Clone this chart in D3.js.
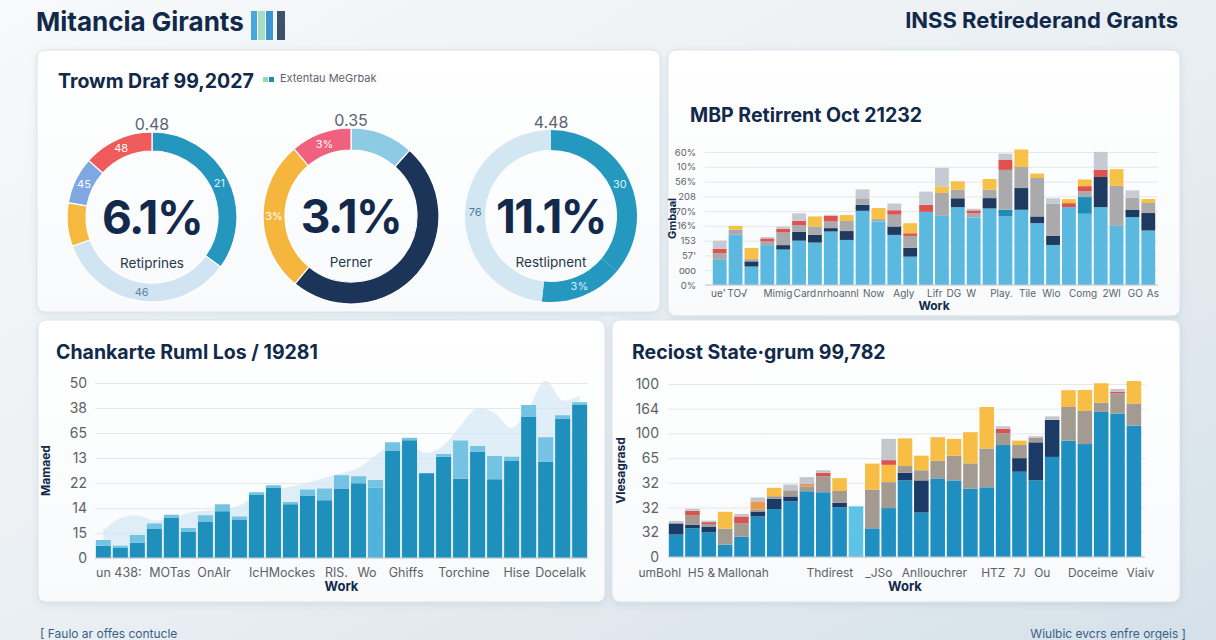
<!DOCTYPE html>
<html>
<head>
<meta charset="utf-8">
<script src="https://cdn.jsdelivr.net/npm/d3@7"></script>
<style>
  html, body { margin: 0; padding: 0; }
  body { width: 1216px; height: 640px; overflow: hidden; }
  svg text { font-family: "Inter", "Noto Sans", sans-serif; }
</style>
</head>
<body>
<script>
// ---------- data ----------

// donut panel
var donutTopLabels = ["0.48", "0.35", "4.48"];
var donutCenterText = ["6.1%", "3.1%", "11.1%"];
var donutSubText = ["Retiprines", "Perner", "Restlipnent"];
var donut1Values = [35, 34.4, 8.3, 8.9, 13.4];
var donut1Labels = ["21", "46", "", "45", "48"];
var donut2Values = [11.6, 49.4, 27.8, 11.2];
var donut2Labels = ["", "", "3%", "3%"];
var donut3Values = [36.1, 15.6, 48.3];
var donut3Labels = ["30", "3%", "76"];

// top-right stacked bars
var mbpTicks = ["0%", "ooo", "57'", "153", "16%", "70%", "208", "56%", "10%", "60%"];
var mbpKeys = ["base", "teal", "navy", "gray", "red", "yellow", "lgray"];
var mbpBase   = [1.7, 3.4, 1.25, 2.7, 2.4, 3.0, 2.87, 3.62, 3.05, 5.02, 4.3, 3.39, 1.92, 4.95, 4.68, 5.27, 4.57, 5.18, 4.64, 5.09, 4.19, 2.71, 5.27, 4.82, 5.27, 4.0, 4.6, 3.69];
var mbpTeal   = [0, 0, 0, 0, 0, 0, 0, 0, 0, 0, 0, 0, 0, 0, 0, 0, 0, 0, 0.45, 0, 0, 0, 0, 1.13, 0, 0, 0, 0];
var mbpNavy   = [0, 0, 0.35, 0, 0.3, 0.6, 0.52, 0.23, 0.6, 0.4, 0, 0.57, 0.6, 0, 0, 0.6, 0, 0.7, 0, 1.47, 0.45, 0.63, 0, 0, 2.04, 0, 0.5, 1.18];
var mbpGray   = [0.45, 0.35, 0.15, 0.25, 0.85, 0.45, 0.57, 0.45, 0.68, 0.45, 0.16, 0.8, 0.8, 0, 1.55, 0.57, 0.3, 0.57, 2.7, 1.43, 2.6, 2.15, 0, 0.4, 0, 2.71, 0.8, 0.68];
var mbpRed    = [0.3, 0, 0, 0.2, 0.25, 0.3, 0, 0.38, 0, 0, 0, 0.3, 0.18, 0.47, 0, 0, 0.18, 0, 0.7, 0, 0, 0, 0.27, 0.34, 0.5, 0, 0, 0];
var mbpYellow = [0, 0.25, 0.75, 0, 0, 0, 0.68, 0, 0.4, 0, 0.75, 0, 0.68, 0, 0.45, 0.57, 0, 0.72, 0, 1.18, 0.3, 0, 0.27, 0.45, 0, 1.13, 0, 0.27];
var mbpLgray  = [0.55, 0, 0, 0.1, 0.15, 0.5, 0, 0.07, 0, 0.6, 0, 0.45, 0, 0.9, 1.25, 0, 0.11, 0, 0.4, 0, 0, 0.38, 0, 0, 1.2, 0, 0.5, 0];
var mbpXLabels = ["ue'", "TO\u221a", "Mimig", "Card", "nrhoannl", "Now", "Agly", "Lifr", "DG", "W", "Play.", "Tile", "Wio", "Comg", "2Wl", "GO", "As"];
var mbpXPos    = [-0.1, 1.1, 3.66, 5.36, 7.44, 9.7, 11.6, 13.55, 14.75, 15.85, 17.75, 19.4, 20.9, 22.9, 24.7, 26.2, 27.3];

// bottom-left bars + area
var chkTicks = ["0", "15", "14", "22", "13", "65", "38", "50"];
var chkKeys = ["base", "mid", "top"];
var chkBase = [4.9, 4.0, 6.1, 11.6, 16.2, 10.6, 14.6, 18.7, 15.4, 25.2, 28.0, 21.5, 24.8, 23.1, 27.8, 29.9, 0, 42.8, 47.1, 33.9, 40.5, 31.7, 42.5, 31.5, 38.8, 56.4, 38.5, 55.6, 61.2];
var chkMid  = [0, 0, 0, 0, 0, 0, 0, 0, 0, 0, 0, 0, 0, 0, 0, 0, 28.2, 0, 0, 0, 0, 0, 0, 0, 0, 0, 0, 0, 0];
var chkTop  = [2.3, 0.9, 3.1, 2.2, 1.1, 1.4, 2.5, 2.8, 1.2, 1.1, 1.1, 0.9, 2.6, 4.7, 5.3, 2.8, 3.0, 3.5, 1.0, 0, 1.1, 15.3, 2.3, 9.3, 1.7, 4.8, 9.8, 1.5, 1.1];
var chkArea = [11, 16, 17, 15, 16, 18, 19, 19.5, 21, 25, 27, 28.5, 30, 32, 34, 36, 41, 45, 45, 42, 45, 53, 60, 58, 52, 60, 71, 63, 65];
var chkXLabels = ["un 438:", "MOTas", "OnAlr", "IcHMockes", "RIS.", "Wo", "Ghiffs", "Torchine", "Hise", "Docelalk"];
var chkXPos    = [0.9, 3.9, 6.5, 10.5, 13.7, 15.5, 17.8, 21.2, 24.3, 26.9];

// bottom-right stacked bars
var recTicks = ["0", "32", "32", "32", "65", "100", "164", "100"];
var recKeys = ["base", "light", "navy", "taupe", "orange", "yellow", "red", "lgray"];
var recBase   = [9.1, 11.6, 10.0, 5.0, 8.2, 16.4, 19.4, 22.5, 26.6, 26.2, 20.1, 0, 11.6, 19.8, 31.0, 18.0, 31.8, 31.0, 27.7, 28.2, 45.3, 34.5, 31.0, 40.5, 47.1, 45.7, 58.7, 58.0, 53.2];
var recLight  = [0, 0, 0, 0, 0, 0, 0, 0, 0, 0, 0, 20.5, 0, 0, 0, 0, 0, 0, 0, 0, 0, 0, 0, 0, 0, 0, 0, 0, 0];
var recNavy   = [4.5, 1.4, 2.3, 0, 0, 2.0, 4.2, 2.0, 0, 0, 1.8, 0, 0, 0, 3.1, 13.0, 0, 0, 0, 0, 0, 5.5, 15.4, 15.0, 0, 0, 0, 0, 0];
var recTaupe  = [0, 3.8, 1.0, 6.5, 5.5, 0.7, 1.0, 2.5, 2.0, 6.5, 4.8, 0, 15.7, 10.5, 2.7, 4.1, 7.1, 10.0, 10.2, 15.7, 4.8, 5.3, 1.8, 0, 13.6, 13.4, 3.7, 8.2, 8.9];
var recOrange = [0, 0, 0, 0, 0, 3.4, 0, 0, 1.0, 0, 0, 0, 0, 0, 0, 0, 0, 0, 0, 0, 0, 0, 0, 0, 0, 0, 0, 0, 0];
var recYellow = [0, 0, 0, 6.8, 0, 0, 3.4, 0, 0, 0, 5.2, 0, 10.5, 7.0, 11.2, 5.9, 9.6, 6.8, 12.6, 16.8, 0, 1.8, 0, 0, 6.8, 8.5, 7.9, 0, 9.1];
var recRed    = [0, 1.9, 0.8, 0, 2.7, 0, 0, 0, 0, 1.4, 0, 0, 0, 1.9, 0, 0, 0, 0, 0, 0, 1.8, 0, 0, 0, 0, 0, 0, 0.7, 0];
var recLgray  = [1.0, 0.8, 0.6, 0, 1.0, 1.6, 0, 2.3, 2.7, 1.0, 0, 0, 0, 8.6, 0, 0, 0, 0, 0, 0, 1.0, 0, 0.7, 1.4, 0, 0, 0, 1.1, 0];
var recXLabels = ["umBohl", "H5 &", "Mallonah", "Thdirest", "_JSo", "Anllouchrer", "HTZ", "7J", "Ou", "Doceime", "Viaiv"];
var recXPos    = [-1.0, 1.55, 4.1, 9.4, 12.4, 15.8, 19.4, 21.0, 22.4, 25.5, 28.4];

// ---------- styles ----------
var navyText = "#11294a";
var donut1Colors = ["#2597bf", "#d0e5f1", "#f6b83e", "#7fa7e2", "#ee5b5a"];
var donut1TextColors = ["#d9f1fb", "#5a86a6", "#fff", "#fff", "#fff"];
var donut2Colors = ["#8dcae3", "#1b3457", "#f6b63d", "#f0617f"];
var donut2TextColors = ["#fff", "#fff", "#fff", "#fff"];
var donut3Colors = ["#2598c0", "#2598c0", "#d3e7f2"];
var donut3TextColors = ["#d9f1fb", "#d9f1fb", "#4d7c9c"];
var mbpColors = ["#5bb8de", "#1d8cb8", "#1e3a5f", "#aaaaac", "#e0524f", "#f7c046", "#c6cad2"];
var chkColors = ["#1f8fbb", "#52b3da", "#74c3e2"];
var recColors = ["#1f8fc2", "#5ec3e4", "#1c3a66", "#a39b91", "#e89a52", "#f8bd45", "#d9534f", "#c4c6cc"];

// ---------- helpers ----------
function rowsOf(keys, cols)
{
    return cols[0].map(function (_, i)
    {
        var r = {};
        keys.forEach(function (k, j) { r[k] = cols[j][i]; });
        return r;
    });
}

var W = 1216, H = 640;
var svg = d3.select("body").append("svg").attr("width", W).attr("height", H);
var defs = svg.append("defs");

var bg = defs.append("linearGradient").attr("id", "bg")
    .attr("x1", "0").attr("y1", "0").attr("x2", "1").attr("y2", "1");
bg.append("stop").attr("offset", "0%").attr("stop-color", "#f7f9fa");
bg.append("stop").attr("offset", "50%").attr("stop-color", "#eaeff3");
bg.append("stop").attr("offset", "100%").attr("stop-color", "#d5e1e9");

var pbg = defs.append("linearGradient").attr("id", "pbg")
    .attr("x1", "0").attr("y1", "0").attr("x2", "0").attr("y2", "1");
pbg.append("stop").attr("offset", "0%").attr("stop-color", "#ffffff");
pbg.append("stop").attr("offset", "100%").attr("stop-color", "#f8fafb");

var shadow = defs.append("filter").attr("id", "shadow")
    .attr("x", "-5%").attr("y", "-5%").attr("width", "110%").attr("height", "115%");
shadow.append("feDropShadow").attr("dx", 0).attr("dy", 1.5).attr("stdDeviation", 3)
    .attr("flood-color", "#5a7a90").attr("flood-opacity", 0.16);

svg.append("rect").attr("width", W).attr("height", H).attr("fill", "url(#bg)");

// ---------- header / footer ----------
svg.append("text").attr("x", 36).attr("y", 31)
    .attr("font-size", 26).attr("font-weight", 700).attr("fill", navyText)
    .text("Mitancia Girants");

var icon = svg.append("g");
[[251, 6, "#4aa6de"], [258, 7, "#a6dcc4"], [266, 7, "#3c96d2"], [277, 8, "#3d5268"]].forEach(function (b)
{
    icon.append("rect").attr("x", b[0]).attr("y", 11).attr("width", b[1]).attr("height", 29).attr("fill", b[2]);
});

svg.append("text").attr("x", 1178).attr("y", 28).attr("text-anchor", "end")
    .attr("font-size", 22).attr("font-weight", 700).attr("fill", navyText)
    .text("INSS Retirederand Grants");

svg.append("text").attr("x", 40).attr("y", 638)
    .attr("font-size", 12).attr("fill", "#3a5f8a")
    .text("[  Faulo ar offes contucle");
svg.append("text").attr("x", 1186).attr("y", 638).attr("text-anchor", "end")
    .attr("font-size", 12).attr("fill", "#3a5f8a")
    .text("Wiulbic evcrs enfre orgeis  ]");

// ---------- panels ----------
[[37, 50, 623, 262], [668, 50, 512, 266], [38, 320, 567, 282], [612, 320, 568, 282]].forEach(function (p)
{
    svg.append("rect").attr("x", p[0]).attr("y", p[1]).attr("width", p[2]).attr("height", p[3])
        .attr("rx", 8).attr("fill", "url(#pbg)").attr("stroke", "#dde3e8").attr("stroke-width", 1)
        .attr("filter", "url(#shadow)");
});

function title(x, y, txt)
{
    svg.append("text").attr("x", x).attr("y", y)
        .attr("font-size", 19.5).attr("font-weight", 700).attr("fill", navyText)
        .text(txt);
}

// ---------- panel 1 : donuts ----------
title(58, 88, "Trowm Draf 99,2027");
svg.append("rect").attr("x", 263).attr("y", 77).attr("width", 5).attr("height", 5).attr("fill", "#9fd8b0");
svg.append("rect").attr("x", 269).attr("y", 77).attr("width", 5).attr("height", 5).attr("fill", "#1a8fb0");
svg.append("text").attr("x", 280).attr("y", 82).attr("font-size", 11).attr("fill", "#5b6470")
    .attr("font-family", "Roboto").text("Extentau MeGrbak");

var donuts = [
    { cx: 152, cy: 217, r0: 66, r1: 85, values: donut1Values, labels: donut1Labels, colors: donut1Colors, tc: donut1TextColors, sep: 1.2 },
    { cx: 351, cy: 216, r0: 66, r1: 88, values: donut2Values, labels: donut2Labels, colors: donut2Colors, tc: donut2TextColors, sep: 1.2 },
    { cx: 551, cy: 216, r0: 66, r1: 86, values: donut3Values, labels: donut3Labels, colors: donut3Colors, tc: donut3TextColors, sep: 0 }
];

var pie = d3.pie().sort(null).value(function (d) { return d; });

donuts.forEach(function (dn, k)
{
    var g = svg.append("g").attr("transform", "translate(" + dn.cx + "," + dn.cy + ")");
    var arc = d3.arc().innerRadius(dn.r0).outerRadius(dn.r1);
    var arcs = pie(dn.values);

    g.selectAll("path").data(arcs).join("path")
        .attr("d", arc)
        .attr("fill", function (d, i) { return dn.colors[i]; })
        .attr("stroke", "#fff").attr("stroke-width", dn.sep);

    g.selectAll("text.al").data(arcs).join("text").attr("class", "al")
        .attr("transform", function (d) { return "translate(" + arc.centroid(d) + ")"; })
        .attr("dy", "0.35em").attr("text-anchor", "middle")
        .attr("font-size", 11).attr("font-family", "Roboto")
        .attr("fill", function (d, i) { return dn.tc[i]; })
        .text(function (d, i) { return dn.labels[i]; });

    g.append("text").attr("y", -(dn.r1 - 1)).attr("dy", "-0.2em").attr("text-anchor", "middle")
        .attr("font-size", 16).attr("fill", "#5a6470").attr("font-family", "Roboto")
        .text(donutTopLabels[k]);

    g.append("text").attr("y", 17).attr("text-anchor", "middle")
        .attr("font-size", 46).attr("font-weight", 700).attr("letter-spacing", -1.5).attr("fill", "#13294b")
        .text(donutCenterText[k]);

    g.append("text").attr("y", 51).attr("text-anchor", "middle")
        .attr("font-size", 13.5).attr("fill", "#26384c")
        .text(donutSubText[k]);
});

// ---------- generic stacked bar chart ----------
function stackedChart(o)
{
    var g = svg.append("g");
    var rows = rowsOf(o.keys, o.cols);
    var n = rows.length;

    var x = d3.scaleBand().domain(d3.range(n)).range([o.bx0, o.bx1]).paddingInner(o.pad).paddingOuter(0.05);
    var y = d3.scaleLinear().domain([0, o.ymax]).range([o.y0, o.y1]);

    var yAxis = d3.axisLeft(y)
        .tickValues(d3.range(o.ticks.length).map(function (i) { return i * o.ymax / (o.ticks.length - 1); }))
        .tickFormat(function (d, i) { return o.ticks[i]; })
        .tickSize(-(o.gx1 - o.gx0)).tickPadding(o.tickPad);

    g.append("g").attr("transform", "translate(" + o.gx0 + ",0)").call(yAxis)
        .call(function (a) { a.select(".domain").remove(); })
        .call(function (a) { a.selectAll("line").attr("stroke", "#e4e7eb"); })
        .call(function (a)
        {
            a.selectAll("text").attr("font-size", o.tickFont).attr("fill", "#5c6268")
                .attr("font-family", "Roboto");
        });

    if (o.area)
    {
        var area = d3.area()
            .x(function (d, i) { return x(i) + x.bandwidth() / 2; })
            .y0(y(0)).y1(function (d) { return y(d); })
            .curve(d3.curveCatmullRom);
        g.append("path").datum(o.area).attr("d", area)
            .attr("fill", "#d3e7f4").attr("opacity", 0.7);
    }

    var series = d3.stack().keys(o.keys)(rows);
    g.selectAll("g.layer").data(series).join("g").attr("class", "layer")
        .attr("fill", function (d, i) { return o.colors[i]; })
        .selectAll("rect").data(function (d) { return d; }).join("rect")
        .attr("x", function (d, i) { return x(i); })
        .attr("width", x.bandwidth())
        .attr("y", function (d) { return y(d[1]); })
        .attr("height", function (d) { return Math.max(0, y(d[0]) - y(d[1])); });

    g.append("line").attr("x1", o.gx0).attr("x2", o.gx1).attr("y1", y(0)).attr("y2", y(0))
        .attr("stroke", "#c9cfd5");

    var xl = d3.scaleLinear().domain([0, n]).range([o.bx0, o.bx1]);
    g.selectAll("text.xl").data(o.xLabels).join("text").attr("class", "xl")
        .attr("x", function (d, i) { return xl(o.xPos[i] + 0.5); })
        .attr("y", o.y0 + o.xLabelDy)
        .attr("text-anchor", "middle").attr("font-size", o.xFont)
        .attr("fill", "#5c6268").attr("font-family", "Roboto")
        .text(function (d) { return d; });

    g.append("text").attr("x", (o.bx0 + o.bx1) / 2).attr("y", o.y0 + o.workDy)
        .attr("text-anchor", "middle").attr("font-size", o.workFont).attr("font-weight", 700)
        .attr("fill", navyText).text("Work");

    g.append("text")
        .attr("transform", "translate(" + o.ylx + "," + ((o.y0 + o.y1) / 2) + ") rotate(-90)")
        .attr("text-anchor", "middle").attr("font-size", o.yTitleFont).attr("font-weight", 700)
        .attr("fill", navyText).text(o.yTitle);
}

// ---------- panel 2 ----------
title(690, 122, "MBP Retirrent Oct 21232");
stackedChart({
    keys: mbpKeys,
    cols: [mbpBase, mbpTeal, mbpNavy, mbpGray, mbpRed, mbpYellow, mbpLgray],
    colors: mbpColors,
    ticks: mbpTicks, ymax: 9,
    y0: 285, y1: 152,
    gx0: 705, gx1: 1158, bx0: 712, bx1: 1156, pad: 0.13,
    tickPad: 9, tickFont: 9.5,
    xLabels: mbpXLabels, xPos: mbpXPos, xLabelDy: 12, xFont: 10, workDy: 25, workFont: 12,
    ylx: 676, yTitle: "Gmbaal", yTitleFont: 11
});

// ---------- panel 3 ----------
title(56, 359, "Chankarte Ruml Los / 19281");
stackedChart({
    keys: chkKeys,
    cols: [chkBase, chkMid, chkTop],
    colors: chkColors,
    ticks: chkTicks, ymax: 70,
    y0: 558, y1: 383,
    gx0: 95, gx1: 588, bx0: 95, bx1: 588, pad: 0.12,
    tickPad: 8, tickFont: 14,
    xLabels: chkXLabels, xPos: chkXPos, xLabelDy: 19, xFont: 12.5, workDy: 33, workFont: 13,
    area: chkArea,
    ylx: 50, yTitle: "Mamaed", yTitleFont: 12
});

// ---------- panel 4 ----------
title(632, 359, "Reciost State\u00b7grum 99,782");
stackedChart({
    keys: recKeys,
    cols: [recBase, recLight, recNavy, recTaupe, recOrange, recYellow, recRed, recLgray],
    colors: recColors,
    ticks: recTicks, ymax: 70,
    y0: 557, y1: 384,
    gx0: 668, gx1: 1145, bx0: 668, bx1: 1142, pad: 0.11,
    tickPad: 9, tickFont: 14,
    xLabels: recXLabels, xPos: recXPos, xLabelDy: 20, xFont: 12, workDy: 34, workFont: 13,
    ylx: 625, yTitle: "Vlesagrasd", yTitleFont: 12
});
</script>
</body>
</html>
